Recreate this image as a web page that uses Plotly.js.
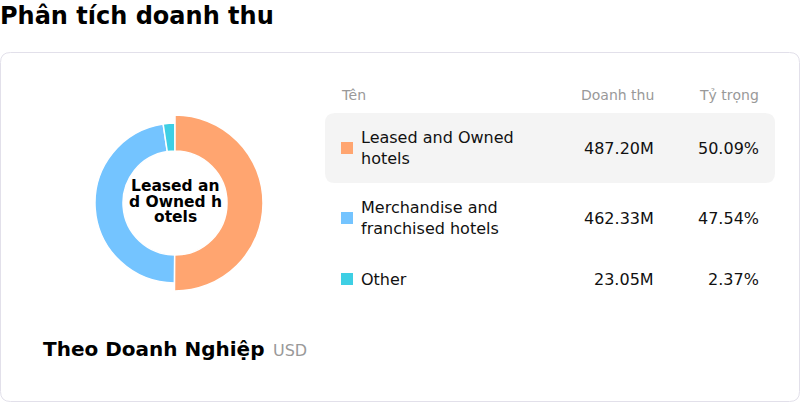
<!DOCTYPE html>
<html>
<head>
<meta charset="utf-8">
<script src="https://cdn.plot.ly/plotly-3.0.1.min.js"></script>
<style>
  html, body { margin: 0; padding: 0; background: #fff; }
  #chart { width: 800px; height: 402px; }
</style>
</head>
<body>
<div id="chart"></div>
<script>
// revenue split by segment, USD
const categories = ['Leased and Owned hotels', 'Merchandise and franchised hotels', 'Other'];
const rowLabels = ['Leased and Owned<br>hotels', 'Merchandise and<br>franchised hotels', 'Other'];
const revenue = [487.20, 462.33, 23.05]; // millions
const shares = [50.09, 47.54, 2.37];
const colors = ['#FFA570', '#74C4FF', '#3ECFE4'];
const headers = ['Tên', 'Doanh thu', 'Tỷ trọng'];
const centerLines = ['Leased an', 'd Owned h', 'otels'];

const W = 800, H = 402;
const FONT = 'DejaVu Sans';

// pie domain from a pixel centre + radius
function domainFor(cx, cy, r) {
	return {
		x: [(cx - r) / W, (cx + r) / W],
		y: [(H - cy - r) / H, (H - cy + r) / H]
	};
}

function roundRect(x0, y0, x1, y1, r) {
	return 'M' + (x0 + r) + ',' + y0 + ' L' + (x1 - r) + ',' + y0 +
		' Q' + x1 + ',' + y0 + ' ' + x1 + ',' + (y0 + r) +
		' L' + x1 + ',' + (y1 - r) +
		' Q' + x1 + ',' + y1 + ' ' + (x1 - r) + ',' + y1 +
		' L' + (x0 + r) + ',' + y1 +
		' Q' + x0 + ',' + y1 + ' ' + x0 + ',' + (y1 - r) +
		' L' + x0 + ',' + (y0 + r) +
		' Q' + x0 + ',' + y0 + ' ' + (x0 + r) + ',' + y0 + ' Z';
}

function label(x, y, text, size, color, anchor) {
	return { x: x, y: y, xref: 'x', yref: 'y', xanchor: anchor || 'left', yanchor: 'middle', align: 'left',
		text: text, showarrow: false, borderpad: 0, borderwidth: 0,
		font: { family: FONT, size: size, color: color } };
}

const cx = 175, cy = 203;
const hole = 52;

var data = [{
	type: 'pie',
	values: revenue,
	labels: categories,
	sort: false,
	direction: 'clockwise',
	rotation: 0,
	hole: hole / 80,
	domain: domainFor(cx, cy, 80),
	marker: { colors: colors, line: { color: '#fff', width: 1.5 } },
	textinfo: 'none',
	hoverinfo: 'none',
	showlegend: false
}, {
	// highlighted slice drawn a bit larger
	type: 'pie',
	values: revenue,
	labels: categories,
	sort: false,
	direction: 'clockwise',
	rotation: 0,
	hole: hole / 88,
	domain: domainFor(cx, cy, 88),
	marker: {
		colors: [colors[0], 'rgba(0,0,0,0)', 'rgba(0,0,0,0)'],
		line: { color: '#fff', width: [1.5, 0, 0] }
	},
	textinfo: 'none',
	hoverinfo: 'none',
	showlegend: false
}];

var shapes = [];
var annotations = [];

// card
shapes.push({ type: 'path', xref: 'x', yref: 'y', path: roundRect(0.5, 52.5, 799.5, 401.5, 10),
	line: { color: '#E2E0EA', width: 1 }, fillcolor: 'rgba(0,0,0,0)', layer: 'below' });
// highlighted row
shapes.push({ type: 'path', xref: 'x', yref: 'y', path: roundRect(325, 113, 775, 183, 10),
	line: { width: 0 }, fillcolor: '#F4F4F4', layer: 'below' });

annotations.push(label(0, 16, '<b>Phân tích doanh thu</b>', 24, '#000'));

centerLines.forEach((t, i) => {
	annotations.push(label(cx, 186 + i * 15.5, '<b>' + t + '</b>', 15.5, '#000', 'center'));
});

annotations.push(label(43, 349, '<b>Theo Doanh Nghiệp</b>', 20, '#000'));
annotations.push(label(273, 350, 'USD', 16, '#999'));

// table header
var colX = [341, 654, 759];
var colAnchor = ['left', 'right', 'right'];
headers.forEach((h, i) => {
	annotations.push(label(colX[i], 95, h, 14, '#999', colAnchor[i]));
});

// table rows
var rowY = [148, 218, 279];
categories.forEach((c, i) => {
	var y = rowY[i];
	shapes.push({ type: 'rect', xref: 'x', yref: 'y', x0: 341, x1: 353, y0: y - 6, y1: y + 6,
		fillcolor: colors[i], line: { width: 0 } });
	annotations.push(label(361, y, rowLabels[i], 16, '#111'));
	annotations.push(label(colX[1], y, revenue[i].toFixed(2) + 'M', 16, '#111', 'right'));
	annotations.push(label(colX[2], y, shares[i].toFixed(2) + '%', 16, '#111', 'right'));
});

var layout = {
	width: W,
	height: H,
	margin: { l: 0, r: 0, t: 0, b: 0, pad: 0 },
	paper_bgcolor: '#fff',
	plot_bgcolor: 'rgba(0,0,0,0)',
	xaxis: { range: [0, W], visible: false, fixedrange: true },
	yaxis: { range: [H, 0], visible: false, fixedrange: true },
	shapes: shapes,
	annotations: annotations,
	showlegend: false
};

Plotly.newPlot('chart', data, layout, { displayModeBar: false, staticPlot: true });
</script>
</body>
</html>
